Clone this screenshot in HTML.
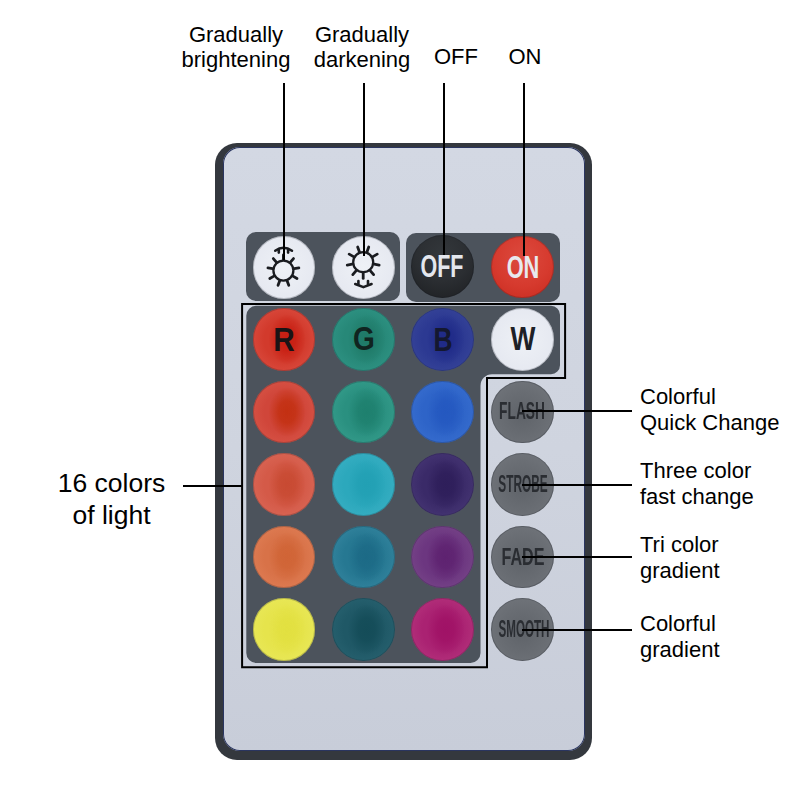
<!DOCTYPE html>
<html><head><meta charset="utf-8">
<style>
html,body{margin:0;padding:0;background:#fff;}
body{width:800px;height:800px;position:relative;overflow:hidden;font-family:"Liberation Sans",sans-serif;color:#000;}
.a{position:absolute;}
.lbl{position:absolute;font-size:22px;line-height:25.7px;white-space:nowrap;}
.remote{left:214.7px;top:142.6px;width:377.6px;height:617px;background:#34383e;border-radius:22px;}
.face{left:223px;top:147px;width:362px;height:604px;background:linear-gradient(#d3d8e3,#cfd4df 50%,#c8cdd9);border-radius:17px;box-shadow:inset 0 0 0 1px #2a3560;}
.pan{background:#4c535c;}
.btn{position:absolute;width:63px;height:63px;border-radius:50%;box-shadow:inset 0 0 0 1px rgba(20,24,32,.22);}
.ln{position:absolute;background:#000;}
.t{position:absolute;white-space:nowrap;line-height:1;}
</style></head><body>
<!-- labels -->
<div class="lbl" style="left:136px;top:21.5px;width:200px;text-align:center;">Gradually<br>brightening</div>
<div class="lbl" style="left:262px;top:21.5px;width:200px;text-align:center;">Gradually<br>darkening</div>
<div class="lbl" style="left:356px;top:44px;width:200px;text-align:center;">OFF</div>
<div class="lbl" style="left:425px;top:44px;width:200px;text-align:center;">ON</div>

<div class="a remote"></div>
<div class="a face"></div>

<!-- panels -->
<div class="a pan" style="left:246.3px;top:232.4px;width:154.2px;height:69px;border-radius:10px;"></div>
<div class="a pan" style="left:405.5px;top:232.5px;width:154.5px;height:69px;border-radius:10px;"></div>
<svg class="a" style="left:0;top:0" width="800" height="800"><path fill="#4c535c" d="M256.3,305.8 H551 A9,9 0 0 1 560,314.8 V365.2 A9,9 0 0 1 551,374.2 H492 A11.5,11.5 0 0 0 480.5,385.7 V653 A10,10 0 0 1 470.5,663 H256.3 A10,10 0 0 1 246.3,653 V315.8 A10,10 0 0 1 256.3,305.8 Z"/></svg>

<!-- buttons -->
<div class="btn" style="left:252.80px;top:236.00px;width:62.6px;height:62.6px;background:radial-gradient(circle at 50% 50%, #eef1f6 0%, #e6e9f1 70%, #dadfe9 100%);"></div>
<div class="btn" style="left:332.20px;top:236.00px;width:62.6px;height:62.6px;background:radial-gradient(circle at 50% 50%, #eef1f6 0%, #e6e9f1 70%, #dadfe9 100%);"></div>
<div class="btn" style="left:411.40px;top:235.40px;width:62.6px;height:62.6px;background:radial-gradient(circle at 50% 30%, #33373b 0%, #2b2e32 50%, #1c1e21 100%);"></div>
<div class="btn" style="left:491.40px;top:235.70px;width:62.6px;height:62.6px;background:radial-gradient(circle at 50% 35%, #dc4a3e 0%, #d63a2e 55%, #c82a1e 100%);"></div>
<div class="btn" style="left:252.80px;top:308.10px;width:62.6px;height:62.6px;background:radial-gradient(ellipse 30% 40% at 55% 50%, #c81e12 0%, rgba(200,30,18,0.85) 45%, rgba(200,30,18,0) 100%),radial-gradient(circle at 50% 50%, #d23a2c 0%, #d23a2c 45%, #de5448 100%);"></div>
<div class="btn" style="left:332.20px;top:308.10px;width:62.6px;height:62.6px;background:radial-gradient(ellipse 30% 40% at 55% 50%, #1f7a68 0%, rgba(31,122,104,0.85) 45%, rgba(31,122,104,0) 100%),radial-gradient(circle at 50% 50%, #278878 0%, #278878 45%, #33998a 100%);"></div>
<div class="btn" style="left:411.40px;top:308.10px;width:62.6px;height:62.6px;background:radial-gradient(ellipse 30% 40% at 55% 50%, #1f2a88 0%, rgba(31,42,136,0.85) 45%, rgba(31,42,136,0) 100%),radial-gradient(circle at 50% 50%, #2c3992 0%, #2c3992 45%, #3c4a9c 100%);"></div>
<div class="btn" style="left:252.80px;top:380.60px;width:62.6px;height:62.6px;background:radial-gradient(ellipse 30% 40% at 55% 50%, #c33012 0%, rgba(195,48,18,0.85) 45%, rgba(195,48,18,0) 100%),radial-gradient(circle at 50% 50%, #d0463a 0%, #d0463a 45%, #db5a4c 100%);"></div>
<div class="btn" style="left:332.20px;top:380.60px;width:62.6px;height:62.6px;background:radial-gradient(ellipse 30% 40% at 55% 50%, #1e806e 0%, rgba(30,128,110,0.85) 45%, rgba(30,128,110,0) 100%),radial-gradient(circle at 50% 50%, #2a9080 0%, #2a9080 45%, #3aa290 100%);"></div>
<div class="btn" style="left:411.40px;top:380.60px;width:62.6px;height:62.6px;background:radial-gradient(ellipse 30% 40% at 55% 50%, #2458c0 0%, rgba(36,88,192,0.85) 45%, rgba(36,88,192,0) 100%),radial-gradient(circle at 50% 50%, #2e64c8 0%, #2e64c8 45%, #3c72d2 100%);"></div>
<div class="btn" style="left:252.80px;top:453.20px;width:62.6px;height:62.6px;background:radial-gradient(ellipse 30% 40% at 55% 50%, #c84a32 0%, rgba(200,74,50,0.85) 45%, rgba(200,74,50,0) 100%),radial-gradient(circle at 50% 50%, #d45a48 0%, #d45a48 45%, #dc6c5c 100%);"></div>
<div class="btn" style="left:332.20px;top:453.20px;width:62.6px;height:62.6px;background:radial-gradient(ellipse 30% 40% at 55% 50%, #22a0b4 0%, rgba(34,160,180,0.85) 45%, rgba(34,160,180,0) 100%),radial-gradient(circle at 50% 50%, #2ca8bc 0%, #2ca8bc 45%, #3eb2c6 100%);"></div>
<div class="btn" style="left:411.40px;top:453.20px;width:62.6px;height:62.6px;background:radial-gradient(ellipse 30% 40% at 55% 50%, #2e1e5a 0%, rgba(46,30,90,0.85) 45%, rgba(46,30,90,0) 100%),radial-gradient(circle at 50% 50%, #3a2a68 0%, #3a2a68 45%, #4c3c7a 100%);"></div>
<div class="btn" style="left:252.80px;top:525.70px;width:62.6px;height:62.6px;background:radial-gradient(ellipse 30% 40% at 55% 50%, #d06436 0%, rgba(208,100,54,0.85) 45%, rgba(208,100,54,0) 100%),radial-gradient(circle at 50% 50%, #d87248 0%, #d87248 45%, #e2825a 100%);"></div>
<div class="btn" style="left:332.20px;top:525.70px;width:62.6px;height:62.6px;background:radial-gradient(ellipse 30% 40% at 55% 50%, #1c6a86 0%, rgba(28,106,134,0.85) 45%, rgba(28,106,134,0) 100%),radial-gradient(circle at 50% 50%, #267892 0%, #267892 45%, #3a8aa4 100%);"></div>
<div class="btn" style="left:411.40px;top:525.70px;width:62.6px;height:62.6px;background:radial-gradient(ellipse 30% 40% at 55% 50%, #5e2270 0%, rgba(94,34,112,0.85) 45%, rgba(94,34,112,0) 100%),radial-gradient(circle at 50% 50%, #6c3680 0%, #6c3680 45%, #7c4c8c 100%);"></div>
<div class="btn" style="left:252.80px;top:598.30px;width:62.6px;height:62.6px;background:radial-gradient(ellipse 30% 40% at 55% 50%, #e2e040 0%, rgba(226,224,64,0.85) 45%, rgba(226,224,64,0) 100%),radial-gradient(circle at 50% 50%, #e6e44c 0%, #e6e44c 45%, #eaea60 100%);"></div>
<div class="btn" style="left:332.20px;top:598.30px;width:62.6px;height:62.6px;background:radial-gradient(ellipse 30% 40% at 55% 50%, #144c58 0%, rgba(20,76,88,0.85) 45%, rgba(20,76,88,0) 100%),radial-gradient(circle at 50% 50%, #1f5866 0%, #1f5866 45%, #2c6674 100%);"></div>
<div class="btn" style="left:411.40px;top:598.30px;width:62.6px;height:62.6px;background:radial-gradient(ellipse 30% 40% at 55% 50%, #a01266 0%, rgba(160,18,102,0.85) 45%, rgba(160,18,102,0) 100%),radial-gradient(circle at 50% 50%, #aa2272 0%, #aa2272 45%, #b83a80 100%);"></div>
<div class="btn" style="left:491.40px;top:308.10px;width:62.6px;height:62.6px;background:radial-gradient(circle at 50% 50%, #eef1f6 0%, #e6e9f1 70%, #dadfe9 100%);"></div>
<div class="btn" style="left:491.40px;top:380.60px;width:62.6px;height:62.6px;background:radial-gradient(circle at 50% 55%, #5f6369 0%, #696d73 50%, #74787e 100%);"></div>
<div class="btn" style="left:491.40px;top:453.20px;width:62.6px;height:62.6px;background:radial-gradient(circle at 50% 55%, #5f6369 0%, #696d73 50%, #74787e 100%);"></div>
<div class="btn" style="left:491.40px;top:525.70px;width:62.6px;height:62.6px;background:radial-gradient(circle at 50% 55%, #5f6369 0%, #696d73 50%, #74787e 100%);"></div>
<div class="btn" style="left:491.40px;top:598.30px;width:62.6px;height:62.6px;background:radial-gradient(circle at 50% 55%, #5f6369 0%, #696d73 50%, #74787e 100%);"></div>
<div class="t" style="left:442.00px;top:267.00px;font-size:30.7px;color:#e4e7ee;font-weight:bold;transform:translate(-50%,-50%) scaleX(0.7);">OFF</div>
<div class="t" style="left:522.50px;top:268.00px;font-size:30.7px;color:#e8e9ee;font-weight:bold;transform:translate(-50%,-50%) scaleX(0.71);">ON</div>
<div class="t" style="left:283.50px;top:339.10px;font-size:33px;color:#1a1416;font-weight:bold;transform:translate(-50%,-50%) scaleX(0.9);">R</div>
<div class="t" style="left:364.10px;top:338.40px;font-size:33px;color:#102420;font-weight:bold;transform:translate(-50%,-50%) scaleX(0.85);">G</div>
<div class="t" style="left:443.20px;top:338.90px;font-size:33px;color:#141830;font-weight:bold;transform:translate(-50%,-50%) scaleX(0.8);">B</div>
<div class="t" style="left:522.50px;top:338.20px;font-size:33px;color:#1d2026;font-weight:bold;transform:translate(-50%,-50%) scaleX(0.8);">W</div>
<div class="t" style="left:522.40px;top:412.20px;font-size:23.7px;color:#2a2d32;font-weight:bold;transform:translate(-50%,-50%) scaleX(0.58);filter:blur(.45px);">FLASH</div>
<div class="t" style="left:523.00px;top:484.60px;font-size:23.7px;color:#2a2d32;font-weight:bold;transform:translate(-50%,-50%) scaleX(0.5);filter:blur(.45px);">STROBE</div>
<div class="t" style="left:523.20px;top:557.90px;font-size:23.7px;color:#2a2d32;font-weight:bold;transform:translate(-50%,-50%) scaleX(0.68);filter:blur(.45px);">FADE</div>
<div class="t" style="left:523.60px;top:630.30px;font-size:23.7px;color:#2a2d32;font-weight:bold;transform:translate(-50%,-50%) scaleX(0.49);filter:blur(.45px);">SMOOTH</div>
<svg class="a" style="left:0;top:0" width="800" height="800"><g stroke="#1a1c20" fill="none" stroke-width="2.8" stroke-linecap="round"><circle cx="283.4" cy="270.6" r="10.0" stroke-width="2.3"/><line x1="283.40" y1="259.60" x2="283.40" y2="254.90"/><line x1="290.47" y1="262.17" x2="293.49" y2="258.57"/><line x1="294.23" y1="268.69" x2="298.86" y2="267.87"/><line x1="292.93" y1="276.10" x2="297.00" y2="278.45"/><line x1="287.16" y1="280.94" x2="288.77" y2="285.35"/><line x1="279.64" y1="280.94" x2="278.03" y2="285.35"/><line x1="273.87" y1="276.10" x2="269.80" y2="278.45"/><line x1="272.57" y1="268.69" x2="267.94" y2="267.87"/><line x1="276.33" y1="262.17" x2="273.31" y2="258.57"/><path d="M275.2,250.8 Q283.4,244.6 292.0,250.8" stroke-width="2.5"/><line x1="278.8" y1="250" x2="278.8" y2="252.6" stroke-width="2.6"/><line x1="288.1" y1="250" x2="288.1" y2="252.6" stroke-width="2.6"/><circle cx="363.2" cy="262.2" r="10.0" stroke-width="2.3"/><line x1="363.20" y1="273.40" x2="363.20" y2="278.40"/><line x1="370.40" y1="270.78" x2="373.61" y2="274.61"/><line x1="356.00" y1="270.78" x2="352.79" y2="274.61"/><line x1="374.23" y1="264.14" x2="379.15" y2="265.01"/><line x1="352.17" y1="264.14" x2="347.25" y2="265.01"/><line x1="372.90" y1="256.60" x2="377.23" y2="254.10"/><line x1="353.50" y1="256.60" x2="349.17" y2="254.10"/><line x1="367.03" y1="251.68" x2="368.74" y2="246.98"/><line x1="359.37" y1="251.68" x2="357.66" y2="246.98"/><path d="M355.2,284.0 L363.4,287.2 L371.6,284.0" stroke-width="2.5" stroke-linejoin="round"/><line x1="358.4" y1="281" x2="358.4" y2="284" stroke-width="2.6"/><line x1="368.0" y1="281" x2="368.0" y2="284" stroke-width="2.6"/></g></svg>


<!-- outline -->
<svg class="a" style="left:0;top:0" width="800" height="800">
<path d="M242.1,304.1 H565.1 V378 H487 V667.3 H242.1 Z" fill="none" stroke="#000" stroke-width="2" stroke-linejoin="miter"/>
</svg>

<!-- lines -->
<div class="ln" style="left:282.6px;top:83px;width:2px;height:177px;"></div>
<div class="ln" style="left:362.6px;top:83px;width:2px;height:173px;"></div>
<div class="ln" style="left:442.6px;top:83px;width:2px;height:172px;"></div>
<div class="ln" style="left:522.6px;top:83px;width:2px;height:173px;"></div>
<div class="ln" style="left:183px;top:484.5px;width:59px;height:2px;"></div>
<div class="ln" style="left:522px;top:410px;width:110px;height:2px;"></div>
<div class="ln" style="left:522px;top:484px;width:110px;height:2px;"></div>
<div class="ln" style="left:522px;top:556px;width:110px;height:2px;"></div>
<div class="ln" style="left:522px;top:629px;width:110px;height:2px;"></div>

<div class="lbl" style="left:640px;top:384px;">Colorful<br>Quick Change</div>
<div class="lbl" style="left:640px;top:458px;">Three color<br>fast change</div>
<div class="lbl" style="left:640px;top:532px;">Tri color<br>gradient</div>
<div class="lbl" style="left:640px;top:611px;">Colorful<br>gradient</div>
<div class="lbl" style="left:11.5px;top:468px;width:200px;text-align:center;font-size:26.5px;line-height:31.5px;">16 colors<br>of light</div>
</body></html>
